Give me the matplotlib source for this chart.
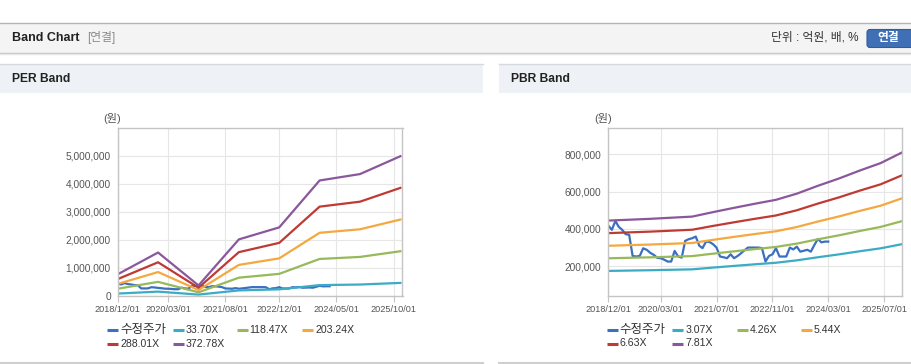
import pandas as pd
import matplotlib
matplotlib.use("Agg")
import matplotlib.pyplot as plt
from matplotlib.patches import Rectangle, FancyBboxPatch
from matplotlib.ticker import FuncFormatter

plt.rcParams['font.family'] = ['Liberation Sans', 'Noto Sans CJK KR']

W, H = 912, 364

# 수정주가, monthly from 2018/12 to 2024/03 (원)
price_start = '2018-12-01'
price = [418000, 395000, 443000, 412000, 395000, 372000, 368000, 255000, 252000, 255000,
         296000, 288000, 272000, 261000, 245000, 243000, 235000, 225000, 225000, 282000,
         252000, 246000, 336000, 345000, 350000, 359000, 310000, 297000, 332000, 330000,
         318000, 300000, 252000, 248000, 243000, 264000, 243000, 255000, 270000, 285000,
         300000, 300000, 300000, 300000, 297000, 225000, 255000, 264000, 297000, 252000,
         252000, 252000, 300000, 290000, 305000, 278000, 283000, 288000, 278000, 314000,
         346000, 328000, 332000, 332000]

# PER band
per_dates = ['2018-12-01', '2019-12-01', '2020-12-01', '2021-12-01',
             '2022-12-01', '2023-12-01', '2024-12-01', '2025-12-01']
per_labels = ['33.70X', '118.47X', '203.24X', '288.01X', '372.78X']
per_33 = [68700, 139000, 32500, 182000, 221000, 372000, 393000, 451000]
per_118 = [241500, 489000, 114000, 639000, 775000, 1309000, 1382000, 1586000]
per_203 = [414000, 840000, 196000, 1096000, 1330000, 2246000, 2372000, 2721000]
per_288 = [587000, 1190000, 278000, 1553000, 1885000, 3183000, 3361000, 3855000]
per_372 = [760000, 1540000, 360000, 2010000, 2440000, 4120000, 4350000, 4990000]
per_ticks = ['2018-12-01', '2020-03-01', '2021-08-01', '2022-12-01', '2024-05-01', '2025-10-01']

# PBR band
pbr_dates = ['2018-12-01', '2019-12-01', '2020-12-01', '2021-06-01', '2021-12-01',
             '2022-06-01', '2022-12-01', '2023-06-01', '2023-12-01', '2024-06-01',
             '2024-12-01', '2025-06-01', '2025-12-01']
pbr_labels = ['3.07X', '4.26X', '5.44X', '6.63X', '7.81X']
pbr_307 = [174800, 178500, 183200, 192600, 201700, 210300, 218600, 231500, 248000,
           263400, 280300, 296000, 318000]
pbr_426 = [242500, 247700, 254200, 267300, 279800, 291800, 303300, 321300, 344200,
           365500, 388900, 410800, 441300]
pbr_544 = [309700, 316200, 324600, 341300, 357300, 372600, 387300, 410200, 439500,
           466700, 496600, 524500, 563500]
pbr_663 = [377400, 385400, 395600, 416000, 435500, 454200, 472000, 500000, 535700,
           568800, 605300, 639200, 686800]
pbr_781 = [444600, 454000, 466000, 490000, 513000, 535000, 556000, 589000, 631000,
           670000, 713000, 753000, 809000]
pbr_ticks = ['2018-12-01', '2020-03-01', '2021-07-01', '2022-11-01', '2024-03-01', '2025-07-01']

price_color = '#3b6fc2'
band_colors = ['#3bacc4', '#98b95a', '#f4a83f', '#be3a33', '#8b579c']

fig = plt.figure(figsize=(W / 100, H / 100), dpi=100)
fig.patch.set_facecolor('white')

# page decoration, drawn in pixel coordinates
bg = fig.add_axes([0, 0, 1, 1])
bg.set_xlim(0, W)
bg.set_ylim(H, 0)
bg.axis('off')

bg.add_patch(Rectangle((0, 22.5), W, 30, fc='#f4f4f4', ec='none'))
bg.plot([0, W], [22.5, 22.5], color='#b4b4b4', lw=1)
bg.plot([0, W], [52.5, 52.5], color='#c6c6c6', lw=1)
bg.plot([0, W], [53.5, 53.5], color='#e6e6e6', lw=1)
bg.text(12, 38, 'Band Chart', fontsize=9, fontweight='bold', color='#222222', va='center')
bg.text(87, 38, '[연결]', fontsize=8.5, color='#8a8a8a', va='center')
bg.text(859, 38, '단위 : 억원, 배, %', fontsize=8.5, color='#333333', va='center', ha='right')
bg.add_patch(FancyBboxPatch((867, 29.5), 48, 18, boxstyle='round,pad=0,rounding_size=3',
                            fc='#3f70b6', ec='#2f5c9c', lw=0.8))
bg.text(888, 38.5, '연결', fontsize=8.5, fontweight='bold', color='white', va='center', ha='center')

for x0, x1, title in [(0, 483, 'PER Band'), (499, W, 'PBR Band')]:
    bg.add_patch(Rectangle((x0, 64), x1 - x0, 28.5, fc='#eef2f7', ec='none'))
    bg.plot([x0, x1], [63.5, 63.5], color='#d6d9dd', lw=1)
    bg.plot([x0, x1], [362.5, 362.5], color='#cfcfcf', lw=1.5)
    bg.text(x0 + 12, 79, title, fontsize=8.7, fontweight='bold', color='#222222', va='center')

bg.text(112, 118, '(원)', fontsize=8, color='#555555', va='center', ha='center')
bg.text(603.5, 118, '(원)', fontsize=8, color='#555555', va='center', ha='center')


def make_axes(left, right, top, bottom):
    ax = fig.add_axes([left / W, 1 - bottom / H, (right - left) / W, (bottom - top) / H])
    for s in ax.spines.values():
        s.set_color('#c4c4c4')
        s.set_linewidth(1)
    ax.grid(True, color='#e6e6e6', lw=0.8)
    ax.set_axisbelow(True)
    ax.tick_params(axis='x', length=4, color='#c4c4c4', labelsize=6.6, labelcolor='#555555', pad=2.5)
    ax.tick_params(axis='y', length=0, labelsize=7.3, labelcolor='#555555', pad=5)
    ax.yaxis.set_major_formatter(FuncFormatter(lambda v, p: f'{v:,.0f}'))
    return ax


def legend_items(ax, cols, rows):
    # highcharts-like legend: 4 items on the first row, the rest below
    lines = ax.get_lines()
    for i, ln in enumerate(lines):
        x = cols[i % 4]
        y = rows[i // 4]
        bg.plot([x, x + 11], [y, y], color=ln.get_color(), lw=2.2, solid_capstyle='butt')
        lab = ln.get_label()
        size = 9 if i == 0 else 7.6
        bg.text(x + 13, y, lab, fontsize=size, color='#333333', va='center', ha='left')


price_dates = pd.date_range(price_start, periods=len(price), freq='MS')

# PER
ax1 = make_axes(117.7, 402.5, 128, 295.5)
per_x = pd.to_datetime(per_dates)
ax1.plot(price_dates, price, color=price_color, lw=1.6, label='수정주가')
for vals, lab, c in zip([per_33, per_118, per_203, per_288, per_372], per_labels, band_colors):
    ax1.plot(per_x, vals, color=c, lw=1.6, label=lab)
ax1.set_ylim(0, 6000000)
ax1.set_yticks([0, 1000000, 2000000, 3000000, 4000000, 5000000])
ax1.set_xlim(pd.Timestamp('2018-12-01'), pd.Timestamp('2025-12-20'))
t1 = pd.to_datetime(per_ticks)
ax1.set_xticks(t1)
ax1.set_xticklabels([d.strftime('%Y/%m/%d') for d in t1])

# PBR
ax2 = make_axes(608.3, 901.7, 128, 295.5)
pbr_x = pd.to_datetime(pbr_dates)
ax2.plot(price_dates, price, color=price_color, lw=1.6, label='수정주가')
for vals, lab, c in zip([pbr_307, pbr_426, pbr_544, pbr_663, pbr_781], pbr_labels, band_colors):
    ax2.plot(pbr_x, vals, color=c, lw=1.6, label=lab)
ax2.set_ylim(43000, 941000)
ax2.set_yticks([200000, 400000, 600000, 800000])
ax2.set_xlim(pd.Timestamp('2018-12-01'), pd.Timestamp('2025-12-01'))
t2 = pd.to_datetime(pbr_ticks)
ax2.set_xticks(t2)
ax2.set_xticklabels([d.strftime('%Y/%m/%d') for d in t2])

legend_items(ax1, [107.3, 172.7, 236.7, 302.3], [330, 343.7])
legend_items(ax2, [606.7, 672.3, 736.7, 800.7], [330, 343.5])

fig.savefig('out.png', dpi=100, facecolor='white')
